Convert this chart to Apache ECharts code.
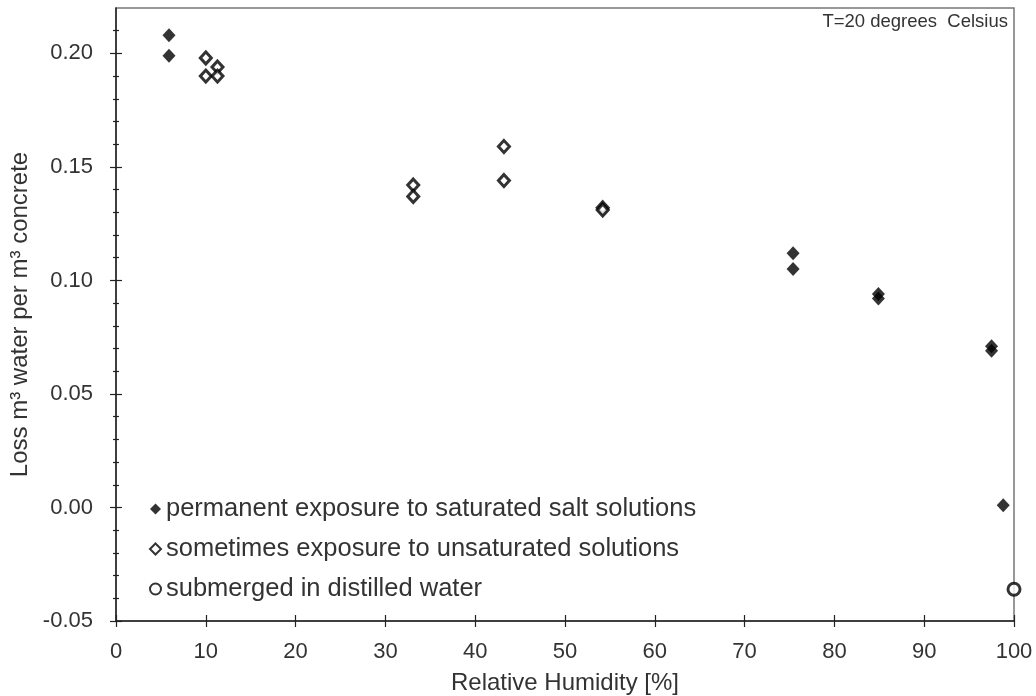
<!DOCTYPE html>
<html>
<head>
<meta charset="utf-8">
<script src="https://cdn.jsdelivr.net/npm/echarts@6/dist/echarts.min.js"></script>
<style>
  html, body { margin: 0; padding: 0; background: #fff; }
  #chart { width: 1036px; height: 696px; }
</style>
</head>
<body>
<div id="chart"></div>
<script>
// values: [relative humidity %, loss m3/m3]
const permanentData = [
  [5.9, 0.208], [5.9, 0.199],
  [75.4, 0.112], [75.4, 0.105],
  [84.9, 0.094], [84.9, 0.092],
  [97.5, 0.071], [97.5, 0.069],
  [98.8, 0.001]
];
const sometimesData = [
  [10.0, 0.198], [10.0, 0.190],
  [11.3, 0.194], [11.3, 0.190],
  [33.1, 0.142], [33.1, 0.137],
  [43.2, 0.159], [43.2, 0.144],
  [54.2, 0.132], [54.2, 0.131]
];
const submergedData = [[100, -0.036]];

const seriesNames = [
  'permanent exposure to saturated salt solutions',
  'sometimes exposure to unsaturated solutions',
  'submerged in distilled water'
];
const yMajorTicks = [-0.05, 0, 0.05, 0.10, 0.15, 0.20];
const yMinorTicks = [-0.04, -0.03, -0.02, -0.01, 0.01, 0.02, 0.03, 0.04,
  0.06, 0.07, 0.08, 0.09, 0.11, 0.12, 0.13, 0.14, 0.16, 0.17, 0.18, 0.19, 0.21];

const chart = echarts.init(document.getElementById('chart'));
const font = 'Liberation Sans, Arial, sans-serif';
const ink = '#222';

// shared y scale, several axes only to draw ticks across the axis line
function yAxisLayer(ticks, inside, len, withLabels) {
  return {
    type: 'value', position: 'left', min: -0.05, max: 0.22,
    axisLine: { show: withLabels, onZero: false, lineStyle: { color: ink, width: 1.5 } },
    axisTick: { show: true, inside: inside, length: len, customValues: ticks,
      lineStyle: { color: ink, width: 1.2 } },
    axisLabel: withLabels ? {
      show: true, customValues: yMajorTicks, margin: 23,
      color: '#333', fontSize: 22, fontFamily: font,
      formatter: v => v.toFixed(2)
    } : { show: false },
    splitLine: { show: false },
    name: withLabels ? 'Loss m\u00b3 water per m\u00b3 concrete' : '',
    nameLocation: 'middle', nameGap: 82,
    nameTextStyle: { color: '#333', fontSize: 24, fontFamily: font }
  };
}
function xAxisLayer(inside, withLabels) {
  return {
    type: 'value', position: 'bottom', min: 0, max: 100, interval: 10,
    axisLine: { show: withLabels, onZero: false, lineStyle: { color: ink, width: 1.5 } },
    axisTick: { show: true, inside: inside, length: 6, lineStyle: { color: ink, width: 1.2 } },
    axisLabel: withLabels ? { show: true, margin: 20, color: '#333', fontSize: 22, fontFamily: font }
      : { show: false },
    splitLine: { show: false },
    name: withLabels ? 'Relative Humidity [%]' : '',
    nameLocation: 'middle', nameGap: 50,
    nameTextStyle: { color: '#333', fontSize: 24, fontFamily: font }
  };
}

const option = {
  backgroundColor: '#fff',
  animation: false,
  grid: { left: 116, top: 8, right: 22, bottom: 75, show: true, outerBoundsMode: 'none',
    borderColor: '#777', borderWidth: 1.5, backgroundColor: 'transparent' },
  title: {
    text: 'T=20 degrees  Celsius', right: 23, top: 7,
    textStyle: { color: '#333', fontSize: 18.5, fontWeight: 'normal', fontFamily: font }
  },
  legend: {
    orient: 'vertical', left: 144, top: 491,
    itemWidth: 11, itemHeight: 11, itemGap: 14,
    data: seriesNames,
    textStyle: { color: '#333', fontSize: 25.5, fontFamily: font, lineHeight: 25 }
  },
  xAxis: [xAxisLayer(false, true), xAxisLayer(true, false)],
  yAxis: [
    yAxisLayer(yMajorTicks, false, 6, true),
    yAxisLayer(yMajorTicks, true, 6, false),
    yAxisLayer(yMinorTicks, false, 3, false),
    yAxisLayer(yMinorTicks, true, 3, false)
  ],
  series: [
    {
      name: seriesNames[0], type: 'scatter', data: permanentData,
      symbol: 'diamond', symbolSize: [13, 14], clip: false,
      itemStyle: { color: '#000' }
    },
    {
      name: seriesNames[1], type: 'scatter', data: sometimesData,
      symbol: 'diamond', symbolSize: [11, 12], clip: false,
      itemStyle: { color: '#fff', borderColor: '#000', borderWidth: 3 }
    },
    {
      name: seriesNames[2], type: 'scatter', data: submergedData,
      symbol: 'circle', symbolSize: 12, clip: false,
      itemStyle: { color: '#fff', borderColor: '#000', borderWidth: 3 }
    }
  ]
};
chart.setOption(option);
</script>
</body>
</html>
